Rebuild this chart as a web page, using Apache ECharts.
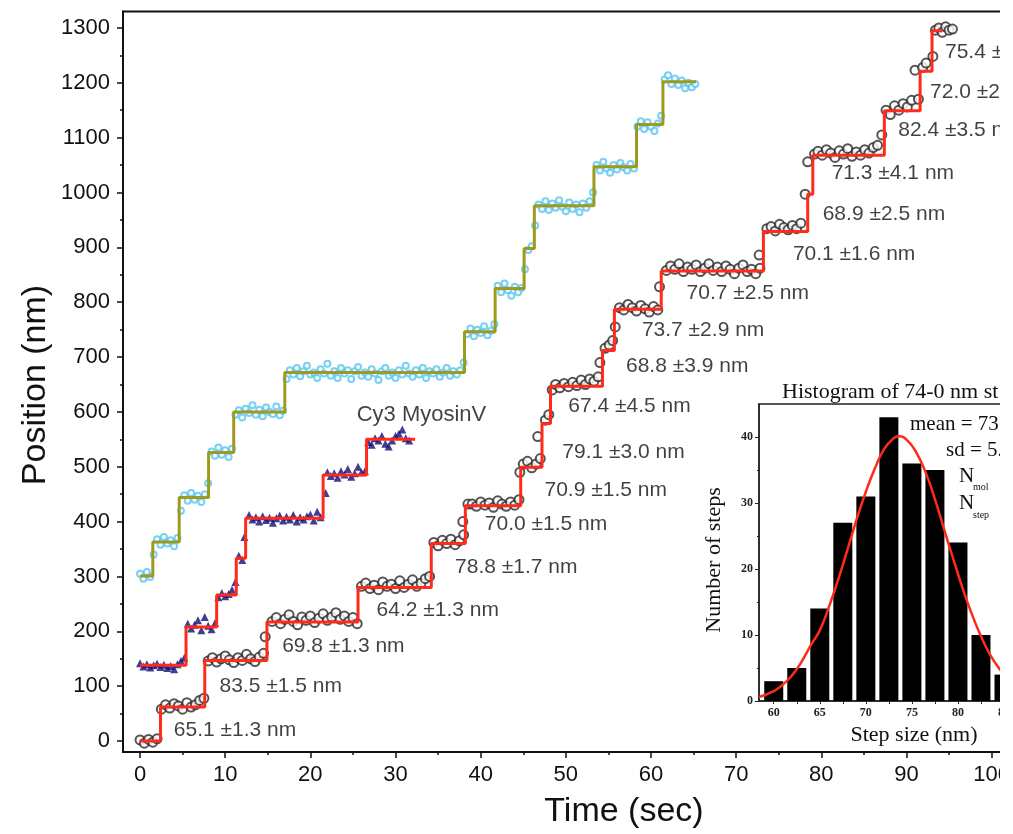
<!DOCTYPE html>
<html>
<head>
<meta charset="utf-8">
<script src="https://cdn.jsdelivr.net/npm/echarts@6/dist/echarts.min.js"></script>
<style>
  html, body { margin: 0; padding: 0; background: #fff; }
  #chart { width: 1013px; height: 834px; }
</style>
</head>
<body>
<div id="chart"></div>
<script>
// ---- tick values ----
var timeTicks = [0, 10, 20, 30, 40, 50, 60, 70, 80, 90, 100];
var timeMinorTicks = [5, 15, 25, 35, 45, 55, 65, 75, 85, 95];
var posTicks = [0, 100, 200, 300, 400, 500, 600, 700, 800, 900, 1000, 1100, 1200, 1300];
var posMinorTicks = [50, 150, 250, 350, 450, 550, 650, 750, 850, 950, 1050, 1150, 1250];
var stepTicks = [60, 62.5, 65, 67.5, 70, 72.5, 75, 77.5, 80, 82.5, 85];
var stepLabels = [60, 65, 70, 75, 80, 85];
var countTicks = [0, 10, 20, 30, 40];
var countMinorTicks = [5, 15, 25, 35];

// ---- cyan trace (raw points) and its fitted steps ----
var cyanPoints = [
  [0.0,305],[0.4,296],[0.8,308],[1.2,299],[1.6,340],[2.0,368],[2.4,358],[2.8,372],[3.2,360],[3.6,366],
  [4.0,355],[4.4,370],[4.8,420],[5.2,448],[5.6,438],[6.0,452],[6.4,440],[6.8,447],[7.2,436],[7.6,450],
  [8.0,470],[8.4,528],[8.8,520],[9.2,535],[9.6,522],[10.0,530],[10.4,518],[10.8,533],[11.2,595],[11.6,603],
  [12.0,590],[12.4,606],[12.8,598],[13.2,612],[13.6,595],[14.0,604],[14.4,592],[14.8,608],[15.2,600],[15.6,596],
  [16.0,610],[16.4,594],[16.8,602],[17.2,660],[17.6,676],[18.0,668],[18.4,680],[18.8,665],[19.2,674],[19.6,684],
  [20.0,668],[20.4,672],[20.8,662],[21.2,678],[21.6,670],[22.0,688],[22.4,666],[22.8,674],[23.2,662],[23.6,680],
  [24.0,670],[24.4,676],[24.8,660],[25.2,674],[25.6,682],[26.0,666],[26.4,672],[26.8,664],[27.2,678],[27.6,670],
  [28.0,658],[28.4,674],[28.8,680],[29.2,666],[29.6,672],[30.0,662],[30.4,676],[30.8,668],[31.2,684],[31.6,670],
  [32.0,664],[32.4,676],[32.8,668],[33.2,680],[33.6,662],[34.0,674],[34.4,670],[34.8,678],[35.2,664],[35.6,672],
  [36.0,680],[36.4,666],[36.8,674],[37.2,668],[37.6,676],[38.0,690],[38.4,742],[38.8,752],[39.2,738],[39.6,750],
  [40.0,744],[40.4,756],[40.8,740],[41.2,748],[41.6,760],[42.0,830],[42.4,818],[42.8,834],[43.2,822],[43.6,812],
  [44.0,828],[44.4,818],[44.8,826],[45.2,860],[45.6,895],[46.0,902],[46.4,940],[46.8,978],[47.2,970],[47.6,984],
  [48.0,968],[48.4,980],[48.8,972],[49.2,986],[49.6,974],[50.0,966],[50.4,982],[50.8,970],[51.2,978],[51.6,964],
  [52.0,980],[52.4,972],[52.8,984],[53.2,1000],[53.6,1050],[54.0,1040],[54.4,1056],[54.8,1044],[55.2,1036],[55.6,1050],
  [56.0,1042],[56.4,1054],[56.8,1046],[57.2,1040],[57.6,1052],[58.0,1044],[58.4,1120],[58.8,1130],[59.2,1116],[59.6,1128],
  [60.0,1120],[60.4,1112],[60.8,1126],[61.2,1140],[61.6,1206],[62.0,1214],[62.4,1198],[62.8,1208],[63.2,1196],[63.6,1204],
  [64.0,1190],[64.4,1200],[64.8,1192],[65.2,1198]
];
var cyanFitTime = [0, 1.5, 4.6, 8.05, 11.0, 17.0, 38.1, 41.7, 45.1, 46.3, 53.3, 58.3, 61.4, 65.3];
var cyanFitPos  = [301, 363, 444, 526, 600, 672, 746, 825, 898, 976, 1047, 1124, 1202, 1202];

// ---- Cy3 MyosinV trace (blue triangles) and its fitted steps ----
var bluePoints = [
  [0.0,142],[0.4,136],[0.8,140],[1.2,134],[1.6,138],[2.0,141],[2.4,135],[2.8,139],[3.2,133],[3.6,137],
  [4.0,131],[4.4,140],[4.8,146],[5.2,152],[5.6,214],[6.0,205],[6.4,212],[6.8,220],[7.2,202],[7.6,226],
  [8.0,210],[8.4,204],[8.8,215],[9.2,262],[9.6,270],[10.0,264],[10.4,268],[10.8,276],[11.2,290],[11.6,338],
  [12.0,330],[12.25,372],[12.8,412],[13.2,404],[13.6,408],[14.0,400],[14.4,410],[14.8,403],[15.2,407],[15.6,398],
  [16.0,406],[16.4,411],[16.8,402],[17.2,409],[17.6,404],[18.0,412],[18.4,400],[18.8,408],[19.2,404],[19.6,410],
  [20.0,413],[20.4,402],[20.8,418],[21.2,408],[21.8,452],[22.0,490],[22.4,483],[22.8,488],[23.2,480],[23.6,492],
  [24.0,486],[24.4,496],[24.8,482],[25.2,488],[25.6,500],[26.0,490],[26.4,492],[26.8,545],[27.2,540],[27.6,552],
  [28.0,548],[28.4,556],[28.8,542],[29.2,537],[29.6,548],[30.0,556],[30.4,560],[30.8,568],[31.2,552],[31.6,548]
];
var blueFitTime = [0, 5.4, 9.0, 11.3, 12.4, 21.5, 26.6, 32.3];
var blueFitPos  = [138, 208, 266, 333, 406, 485, 550, 550];

// ---- long trace (open circles) and its fitted steps ----
var blackPoints = [
  [0.0,2],[0.5,-4],[1.0,3],[1.5,-2],[2.0,4],[2.5,58],[3.0,66],[3.5,60],[4.0,68],[4.5,64],
  [5.0,58],[5.5,70],[6.0,62],[6.5,66],[7.0,74],[7.5,78],[8.0,146],[8.5,152],[9.0,144],[9.5,150],
  [10.0,155],[10.5,148],[11.0,143],[11.5,152],[12.0,147],[12.5,158],[13.0,150],[13.5,145],[14.0,153],[14.5,160],
  [14.7,190],[15.5,218],[16.0,225],[16.5,214],[17.0,222],[17.5,230],[18.0,218],[18.5,212],[19.0,226],[19.5,220],
  [20.0,228],[20.5,216],[21.0,224],[21.5,232],[22.0,220],[22.5,226],[23.0,234],[23.5,222],[24.0,228],[24.5,218],
  [25.0,225],[25.5,214],[26.0,282],[26.5,288],[27.0,278],[27.5,284],[28.0,276],[28.5,290],[29.0,282],[29.5,286],
  [30.0,278],[30.5,292],[31.0,280],[31.5,286],[32.0,294],[32.5,282],[33.0,288],[33.5,296],[34.0,300],[34.5,362],
  [35.0,356],[35.5,366],[36.0,360],[36.5,368],[37.0,358],[37.5,365],[38.0,376],[37.9,400],[38.5,432],[39.0,432],
  [39.5,428],[40.0,436],[40.5,430],[41.0,434],[41.5,426],[42.0,438],[42.5,432],[43.0,428],[43.5,436],[44.0,430],
  [44.5,440],[44.6,490],[45.0,505],[45.5,510],[46.0,498],[46.5,505],[46.7,555],[47.0,515],[47.6,585],[48.0,595],
  [48.4,640],[48.8,650],[49.3,644],[49.8,652],[50.3,646],[50.8,654],[51.3,648],[51.8,658],[52.3,650],[52.8,660],
  [53.3,656],[53.8,664],[54.0,690],[54.6,716],[55.1,722],[55.5,730],[55.8,755],[56.3,790],[56.8,786],[57.3,796],
  [57.8,790],[58.3,784],[58.8,794],[59.3,788],[59.8,782],[60.3,792],[60.8,786],[61.0,828],[61.8,858],[62.3,866],
  [62.8,860],[63.3,870],[63.8,856],[64.3,864],[64.8,860],[65.3,868],[65.8,856],[66.3,862],[66.8,870],[67.3,858],
  [67.8,864],[68.3,856],[68.8,866],[69.3,860],[69.8,852],[70.3,862],[70.8,868],[71.3,856],[71.8,860],[72.3,852],
  [72.8,862],[72.7,886],[73.6,934],[74.1,938],[74.6,930],[75.1,942],[75.6,936],[76.1,932],[76.6,940],[77.1,934],
  [77.6,944],[78.1,997],[78.4,1056],[79.2,1070],[79.6,1075],[80.1,1068],[80.6,1078],[81.1,1072],[81.6,1064],[82.1,1076],
  [82.6,1070],[83.1,1080],[83.6,1066],[84.1,1074],[84.6,1068],[85.1,1078],[85.6,1072],[86.1,1082],[86.6,1086],[87.1,1105],
  [87.6,1150],[88.1,1142],[88.6,1158],[89.1,1150],[89.6,1162],[90.1,1156],[90.6,1168],[91.0,1223],[91.4,1170],[91.9,1228],
  [92.3,1236],[93.1,1248],[93.4,1296],[93.8,1300],[94.2,1292],[94.6,1302],[95.0,1296],[95.4,1298]
];
var blackFitTime = [0, 2.4, 7.6, 14.9, 25.6, 34.2, 38.2, 44.7, 47.2, 48.2, 54.3, 55.7, 61.2, 73.2, 78.4, 79.0, 87.4, 91.6, 93.0, 94.2];
var blackFitPos  = [0, 62, 147, 217, 280, 360, 429, 499, 579, 647, 712, 787, 857, 929, 997, 1068, 1149, 1221, 1295, 1295];

// ---- step size annotations (anchor time, anchor position, text) ----
var stepLabelTime = [3.97, 9.33, 16.69, 27.77, 36.99, 40.49, 47.49, 49.59, 50.29, 57.06, 58.93, 64.18, 76.66, 80.16, 81.21, 89.03, 92.77, 94.52];
var stepLabelPos  = [20, 100, 173, 239, 317, 396, 458, 527, 611, 684, 749, 817, 888, 961, 1036, 1114, 1183, 1256];
var stepLabelText = ['65.1 ±1.3 nm', '83.5 ±1.5 nm', '69.8 ±1.3 nm', '64.2 ±1.3 nm', '78.8 ±1.7 nm', '70.0 ±1.5 nm',
  '70.9 ±1.5 nm', '79.1 ±3.0 nm', '67.4 ±4.5 nm', '68.8 ±3.9 nm', '73.7 ±2.9 nm', '70.7 ±2.5 nm', '70.1 ±1.6 nm',
  '68.9 ±2.5 nm', '71.3 ±4.1 nm', '82.4 ±3.5 nm', '72.0 ±2', '75.4 ±'];

// ---- histogram inset ----
var binCenters = [60, 62.5, 65, 67.5, 70, 72.5, 75, 77.5, 80, 82.5, 85];
var binCounts  = [3, 5, 14, 27, 31, 43, 36, 35, 24, 10, 4];
var fitX = [58.4, 60, 61, 62, 63, 64, 65, 66, 67, 68, 69, 70, 71, 72, 73, 73.6, 74.5, 75.5, 76.5, 77.5, 78.5, 79.5, 80.5, 81.5, 82.5, 83.5, 84.5, 85.5];
var fitY = [0.6, 1.5, 2.5, 3.9, 5.9, 8.4, 10.7, 14.3, 18.4, 22.9, 27.5, 31.7, 35.3, 38.2, 39.8, 40.1, 39.5, 37.6, 34.6, 30.6, 26.0, 21.5, 17.1, 13.2, 9.8, 7.0, 4.9, 3.3];

var SANS = '"Liberation Sans", Arial, Helvetica, sans-serif';
var SERIF = '"Liberation Serif", "Times New Roman", serif';

function zip(a, b) {
  var out = [];
  for (var i = 0; i < a.length; i++) out.push([a[i], b[i]]);
  return out;
}
function plain(v) { return String(v); }

var labelData = [];
for (var i = 0; i < stepLabelTime.length; i++) {
  labelData.push({ value: [stepLabelTime[i], stepLabelPos[i]], name: stepLabelText[i] });
}
labelData.push({ value: [25.44, 594], name: 'Cy3 MyosinV', label: { fontSize: 22 } });

var myChart = echarts.init(document.getElementById('chart'), null, { renderer: 'canvas' });

var option = {
  animation: false,
  backgroundColor: '#fff',
  grid: [
    { left: 123, top: 11.5, right: 0, height: 740.5, show: true, borderColor: '#111', borderWidth: 2, backgroundColor: 'transparent' },
    { left: 759, top: 404, right: 0, height: 297, show: true, borderColor: '#222', borderWidth: 1.5, backgroundColor: '#fff', z: 5 }
  ],
  xAxis: [
    {
      gridIndex: 0, type: 'value', position: 'bottom', min: -2, max: 101.5,
      axisLine: { onZero: false, lineStyle: { color: '#111', width: 2 } },
      axisTick: { customValues: timeTicks, length: 6, lineStyle: { color: '#111', width: 1.5 } },
      axisLabel: { customValues: timeTicks, formatter: plain, fontFamily: SANS, fontSize: 22, color: '#111', margin: 12 },
      splitLine: { show: false }
    },
    {
      gridIndex: 0, type: 'value', position: 'bottom', min: -2, max: 101.5,
      axisLine: { show: false, onZero: false },
      axisTick: { customValues: timeMinorTicks, length: 3, lineStyle: { color: '#111', width: 1.5 } },
      axisLabel: { show: false },
      splitLine: { show: false }
    },
    {
      gridIndex: 1, type: 'value', position: 'bottom', min: 58.4, max: 85.5, z: 6,
      axisLine: { onZero: false, lineStyle: { color: '#222', width: 1.5 } },
      axisTick: { customValues: stepTicks, length: 3, lineStyle: { color: '#222' } },
      axisLabel: { customValues: stepLabels, formatter: plain, fontFamily: SERIF, fontWeight: 'bold', fontSize: 12, color: '#222', margin: 6 },
      splitLine: { show: false }
    }
  ],
  yAxis: [
    {
      gridIndex: 0, type: 'value', position: 'left', min: -20, max: 1330,
      axisLine: { show: true, onZero: false, lineStyle: { color: '#111', width: 2 } },
      axisTick: { show: true, customValues: posTicks, length: 6, lineStyle: { color: '#111', width: 1.5 } },
      axisLabel: { customValues: posTicks, formatter: plain, fontFamily: SANS, fontSize: 22, color: '#111', margin: 13 },
      splitLine: { show: false }
    },
    {
      gridIndex: 0, type: 'value', position: 'left', min: -20, max: 1330,
      axisLine: { show: false, onZero: false },
      axisTick: { show: true, customValues: posMinorTicks, length: 3, lineStyle: { color: '#111', width: 1.5 } },
      axisLabel: { show: false },
      splitLine: { show: false }
    },
    {
      gridIndex: 1, type: 'value', position: 'left', min: 0, max: 45, z: 6,
      axisLine: { show: true, onZero: false, lineStyle: { color: '#222', width: 1.5 } },
      axisTick: { show: true, customValues: countTicks, length: 4, lineStyle: { color: '#222' } },
      axisLabel: { customValues: countTicks, formatter: plain, fontFamily: SERIF, fontWeight: 'bold', fontSize: 12, color: '#222', margin: 6 },
      splitLine: { show: false }
    },
    {
      gridIndex: 1, type: 'value', position: 'left', min: 0, max: 45, z: 6,
      axisLine: { show: false, onZero: false },
      axisTick: { show: true, customValues: countMinorTicks, length: 2, lineStyle: { color: '#222' } },
      axisLabel: { show: false },
      splitLine: { show: false }
    }
  ],
  series: [
    {
      name: 'cyan data', type: 'scatter', xAxisIndex: 0, yAxisIndex: 0,
      symbol: 'emptyCircle', symbolSize: 6,
      itemStyle: { color: '#55c4f2', borderColor: '#55c4f2', borderWidth: 1.2 },
      data: cyanPoints, z: 2
    },
    {
      name: 'cyan fit', type: 'line', xAxisIndex: 0, yAxisIndex: 0, step: 'end',
      symbol: 'none', lineStyle: { color: '#9e9a1e', width: 3 },
      data: zip(cyanFitTime, cyanFitPos), z: 3
    },
    {
      name: 'Cy3 MyosinV', type: 'scatter', xAxisIndex: 0, yAxisIndex: 0,
      symbol: 'triangle', symbolSize: 8,
      itemStyle: { color: '#0e0e78' },
      data: bluePoints, z: 2
    },
    {
      name: 'blue fit', type: 'line', xAxisIndex: 0, yAxisIndex: 0, step: 'end',
      symbol: 'none', lineStyle: { color: '#ff2a1a', width: 3 },
      data: zip(blueFitTime, blueFitPos), z: 3
    },
    {
      name: 'long trace', type: 'scatter', xAxisIndex: 0, yAxisIndex: 0,
      symbol: 'emptyCircle', symbolSize: 9,
      itemStyle: { color: '#2a2a2a', borderColor: '#2a2a2a', borderWidth: 1 },
      data: blackPoints, z: 2
    },
    {
      name: 'long fit', type: 'line', xAxisIndex: 0, yAxisIndex: 0, step: 'end',
      symbol: 'none', lineStyle: { color: '#ff2a1a', width: 3 },
      data: zip(blackFitTime, blackFitPos), z: 3
    },
    {
      name: 'labels', type: 'scatter', xAxisIndex: 0, yAxisIndex: 0,
      symbolSize: 0, silent: true,
      label: {
        show: true, position: 'right', distance: 0,
        formatter: function (p) { return p.name; },
        fontFamily: SANS, fontSize: 21, color: '#111'
      },
      data: labelData, z: 4
    },
    {
      name: 'histogram', type: 'bar', xAxisIndex: 2, yAxisIndex: 2,
      barWidth: 19, itemStyle: { color: '#000' },
      data: zip(binCenters, binCounts), z: 6
    },
    {
      name: 'gauss', type: 'line', xAxisIndex: 2, yAxisIndex: 2, smooth: true,
      symbol: 'none', lineStyle: { color: '#ff2a1a', width: 2.5 },
      data: zip(fitX, fitY), z: 7
    }
  ],
  graphic: [
    { type: 'text', x: 36, y: 385, rotation: Math.PI / 2, z: 10,
      style: { text: 'Position (nm)', font: '34px ' + SANS, fill: '#111', align: 'center', verticalAlign: 'middle' } },
    { type: 'text', x: 624, y: 812, z: 10,
      style: { text: 'Time (sec)', font: '34px ' + SANS, fill: '#111', align: 'center', verticalAlign: 'middle' } },
    { type: 'text', x: 782, y: 392, z: 10,
      style: { text: 'Histogram of 74-0 nm st', font: '22px ' + SERIF, fill: '#111', align: 'left', verticalAlign: 'middle' } },
    { type: 'text', x: 714, y: 560, rotation: Math.PI / 2, z: 10,
      style: { text: 'Number of steps', font: '22px ' + SERIF, fill: '#111', align: 'center', verticalAlign: 'middle' } },
    { type: 'text', x: 914, y: 735, z: 10,
      style: { text: 'Step size (nm)', font: '22px ' + SERIF, fill: '#111', align: 'center', verticalAlign: 'middle' } },
    { type: 'text', x: 910, y: 424, z: 10,
      style: { text: 'mean = 73', font: '21px ' + SERIF, fill: '#111', align: 'left', verticalAlign: 'middle' } },
    { type: 'text', x: 946, y: 450, z: 10,
      style: { text: 'sd = 5.3', font: '21px ' + SERIF, fill: '#111', align: 'left', verticalAlign: 'middle' } },
    { type: 'text', x: 959, y: 476, z: 10,
      style: { text: 'N', font: '21px ' + SERIF, fill: '#111', align: 'left', verticalAlign: 'middle' } },
    { type: 'text', x: 973, y: 487, z: 10,
      style: { text: 'mol', font: '10px ' + SERIF, fill: '#111', align: 'left', verticalAlign: 'middle' } },
    { type: 'text', x: 959, y: 503, z: 10,
      style: { text: 'N', font: '21px ' + SERIF, fill: '#111', align: 'left', verticalAlign: 'middle' } },
    { type: 'text', x: 973, y: 515, z: 10,
      style: { text: 'step', font: '10px ' + SERIF, fill: '#111', align: 'left', verticalAlign: 'middle' } },
    // the source figure is cut off at its right edge
    { type: 'rect', left: 1000, top: 0, z: 100, shape: { width: 13, height: 834 }, style: { fill: '#fff' } }
  ]
};

myChart.setOption(option);
</script>
</body>
</html>
